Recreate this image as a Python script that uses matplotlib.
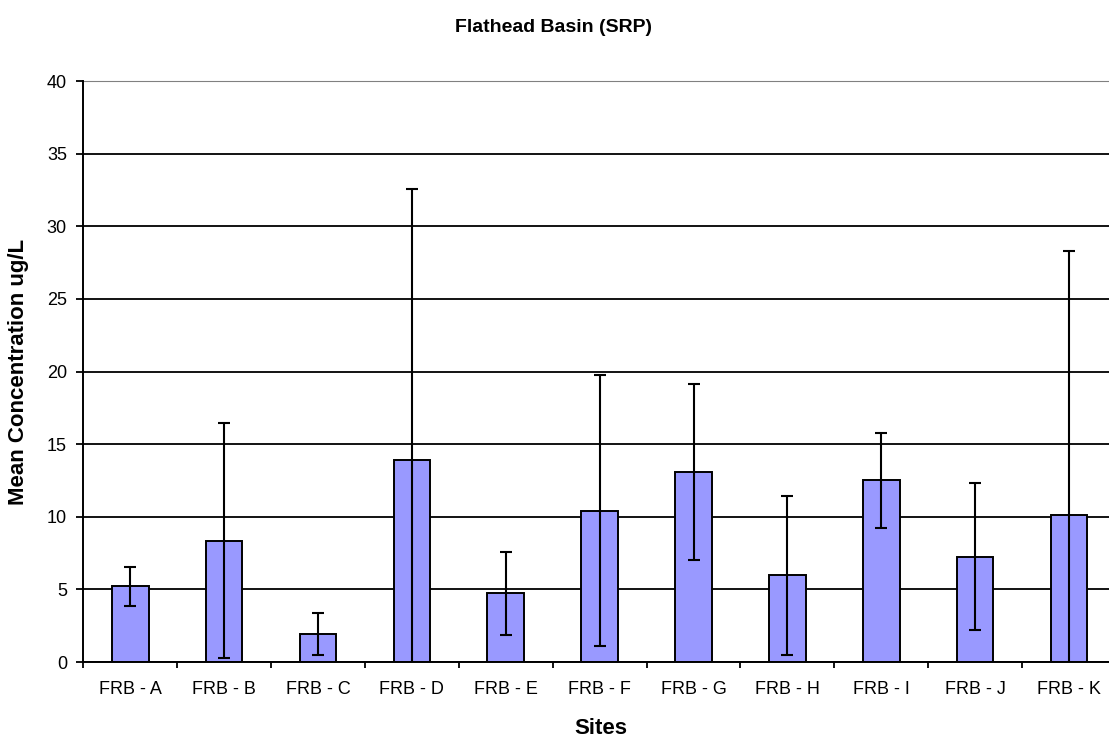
import numpy as np
import matplotlib.pyplot as plt

sites = ['FRB - A', 'FRB - B', 'FRB - C', 'FRB - D', 'FRB - E', 'FRB - F',
         'FRB - G', 'FRB - H', 'FRB - I', 'FRB - J', 'FRB - K']
mean_conc = [5.2, 8.35, 1.9, 13.9, 4.72, 10.4, 13.1, 5.96, 12.5, 7.25, 10.1]
std_dev = [1.35, 8.1, 1.45, 18.65, 2.84, 9.33, 6.07, 5.5, 3.25, 5.06, 18.2]

plt.rcParams['font.family'] = ['Liberation Sans', 'DejaVu Sans']

fig = plt.figure(figsize=(11.09, 7.4), dpi=100)
# plot area runs slightly past the right edge, as in the original
ax = fig.add_axes([0.0751, 0.1054, 0.9312, 0.785])

x = np.arange(len(sites))
ax.bar(x, mean_conc, width=0.39, color='#9999ff', edgecolor='black',
       linewidth=1.4, zorder=3)
ax.errorbar(x, mean_conc, yerr=std_dev, fmt='none', ecolor='black',
            elinewidth=1.5, capsize=4, capthick=1.5, zorder=4)

ax.set_ylim(0, 40)
ax.set_xlim(-0.5, len(sites) - 0.5)
ax.set_yticks(np.arange(0, 41, 5))
ax.set_xticks(x)
ax.set_xticklabels(sites)
ax.set_xticks(np.arange(-0.5, len(sites), 1.0), minor=True)

ax.yaxis.grid(True, color='black', linewidth=1.3, zorder=0)
ax.set_axisbelow(True)
ax.get_ygridlines()[-1].set_color('#808080')

ax.tick_params(axis='y', direction='out', length=4.8, width=1.3,
               pad=7, labelsize=13)
ax.tick_params(axis='x', which='major', length=0, pad=14, labelsize=13)
ax.tick_params(axis='x', which='minor', direction='out', length=4.5,
               width=1.3)

for side in ['left', 'bottom']:
    ax.spines[side].set_linewidth(1.4)
    ax.spines[side].set_zorder(5)
ax.spines['right'].set_visible(False)
ax.spines['top'].set_color('#808080')

fig.text(0.4987, 0.9635, 'Flathead Basin (SRP)', ha='center', va='center',
         fontsize=14, fontweight='bold')
fig.text(0.5415, 0.016, 'Sites', ha='center', va='center',
         fontsize=16, fontweight='bold')
fig.text(0.017, 0.497, 'Mean Concentration ug/L', ha='center', va='center',
         rotation=90, fontsize=16, fontweight='bold')

fig.savefig('out.png', dpi=100)
